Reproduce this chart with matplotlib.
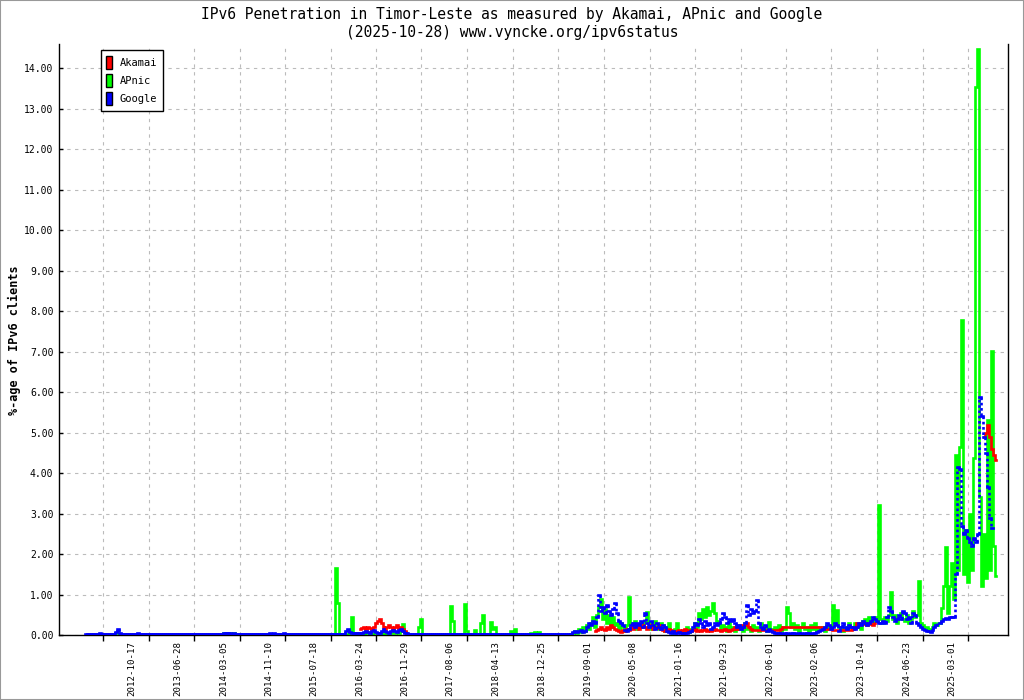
import numpy as np
import matplotlib
matplotlib.use("Agg")
import matplotlib.pyplot as plt
import matplotlib.dates as mdates
from matplotlib.patches import Patch, Rectangle

MONO = "DejaVu Sans Mono"
STEP_DAYS = 11  # spacing of the sampled values inside one segment

title_lines = ["IPv6 Penetration in Timor-Leste as measured by Akamai, APnic and Google",
               "(2025-10-28) www.vyncke.org/ipv6status"]
y_label = "%-age of IPv6 clients"
series_names = ["Akamai", "APnic", "Google"]
series_colors = ["#ff0000", "#00ff00", "#0000ff"]

date_labels = ["2012-10-17", "2013-06-28", "2014-03-05", "2014-11-10", "2015-07-18",
               "2016-03-24", "2016-11-29", "2017-08-06", "2018-04-13", "2018-12-25",
               "2019-09-01", "2020-05-08", "2021-01-16", "2021-09-23", "2022-06-01",
               "2023-02-06", "2023-10-14", "2024-06-23", "2025-03-01"]

# each segment: (first date, values every STEP_DAYS days)
akamai_segments = [
    ("2016-03-24", [0.15, 0.18, 0.2, 0.15, 0.2, 0.18, 0.15, 0.2, 0.3, 0.35,
                    0.4, 0.3, 0.2, 0.15, 0.2, 0.25, 0.2, 0.15, 0.2, 0.25,
                    0.18, 0.2, 0.15, 0.1, 0.05]),
    ("2019-10-13", [0.1, 0.12, 0.15, 0.2, 0.15, 0.12, 0.2, 0.15, 0.25, 0.2,
                    0.15, 0.12, 0.1, 0.08, 0.12, 0.1, 0.15, 0.12, 0.2, 0.15,
                    0.25, 0.2, 0.15, 0.2, 0.25, 0.2, 0.15, 0.2, 0.25, 0.15,
                    0.2, 0.18, 0.25, 0.15, 0.12, 0.1, 0.12, 0.15, 0.12, 0.1,
                    0.08, 0.1, 0.12, 0.1, 0.12, 0.15, 0.1, 0.12, 0.1, 0.12,
                    0.15, 0.1, 0.12, 0.1, 0.12, 0.15, 0.1, 0.12, 0.1, 0.12,
                    0.15, 0.12]),
    ("2021-08-25", [0.12, 0.1, 0.12, 0.15, 0.12, 0.1, 0.12, 0.15, 0.2, 0.15,
                    0.2, 0.25, 0.2, 0.25, 0.3, 0.2, 0.15, 0.12, 0.12, 0.12,
                    0.12, 0.12, 0.12, 0.12, 0.12, 0.12, 0.12, 0.12, 0.12, 0.12,
                    0.12, 0.15, 0.2, 0.2, 0.2, 0.2, 0.2, 0.2, 0.2, 0.2,
                    0.2, 0.2, 0.2, 0.2, 0.2, 0.2, 0.2, 0.2, 0.2, 0.2,
                    0.2, 0.2, 0.15, 0.15, 0.15, 0.15, 0.15, 0.12, 0.12, 0.12,
                    0.12, 0.12, 0.12, 0.12, 0.12, 0.12, 0.12]),
    ("2023-09-01", [0.15, 0.2, 0.3, 0.25, 0.3, 0.28, 0.3, 0.25, 0.3, 0.28,
                    0.25, 0.3]),
    ("2025-08-24", [4.9, 5.0, 5.18, 4.9, 4.6, 4.45, 4.33]),
]

apnic_segments = [
    ("2012-02-07", [0, 0, 0, 0, 0, 0, 0, 0, 0, 0,
                    0, 0, 0, 0, 0, 0.05, 0.06, 0, 0, 0,
                    0, 0, 0, 0, 0, 0, 0, 0, 0, 0,
                    0, 0, 0, 0, 0, 0, 0, 0, 0, 0,
                    0, 0, 0, 0, 0, 0, 0, 0, 0, 0,
                    0, 0, 0, 0, 0, 0, 0, 0, 0, 0,
                    0, 0, 0, 0, 0, 0, 0, 0, 0, 0.04,
                    0.05, 0.03, 0.05, 0.02, 0.04, 0, 0, 0, 0, 0,
                    0, 0, 0, 0, 0, 0, 0, 0, 0, 0,
                    0, 0, 0.03, 0, 0, 0, 0, 0, 0, 0,
                    0, 0, 0, 0, 0, 0, 0, 0, 0, 0,
                    0, 0, 0, 0, 0, 0, 0, 0, 0, 0,
                    0, 0, 0, 0, 0]),
    ("2015-11-13", [1.65, 0.8, 0.02, 0.02, 0.03, 0.03, 0.03, 0.05, 0.44, 0.04,
                    0.03, 0.05, 0.04, 0.06, 0.03, 0.05, 0.08, 0.04, 0.03, 0.06,
                    0.05, 0.04, 0.03, 0.05, 0.07, 0.04, 0.03, 0.05, 0.06, 0.04,
                    0.05, 0.08, 0.06, 0.1, 0.27, 0.08, 0.03]),
    ("2016-12-24", [0, 0, 0, 0, 0, 0.2, 0.4, 0,
                    0, 0, 0, 0, 0, 0, 0, 0, 0, 0,
                    0, 0, 0, 0.72, 0.35, 0, 0, 0, 0, 0,
                    0.77, 0.1, 0, 0, 0, 0.12, 0, 0, 0.3, 0.5,
                    0, 0, 0, 0.32, 0.15, 0.2, 0, 0, 0, 0,
                    0, 0, 0, 0.1, 0, 0.15, 0, 0, 0, 0,
                    0, 0, 0, 0.05, 0, 0.08, 0, 0.08, 0, 0,
                    0, 0, 0, 0, 0, 0, 0, 0, 0, 0,
                    0, 0, 0, 0.02]),
    ("2019-06-14", [0.05, 0.1, 0.05, 0.15, 0.08, 0.2, 0.1,
                    0.25, 0.15, 0.3, 0.45, 0.2, 0.5,
                    0.7, 0.9, 0.4, 0.65, 0.3, 0.5, 0.2, 0.45, 0.25, 0.3,
                    0.15, 0.3, 0.2, 0.1, 0.25,
                    0.95, 0.3, 0.2, 0.35, 0.15, 0.25, 0.3, 0.2, 0.35, 0.57,
                    0.3, 0.15, 0.25, 0.35, 0.2, 0.15, 0.3, 0.25, 0.1, 0.2,
                    0.3, 0.1, 0.05, 0.15, 0.3, 0.08, 0.1, 0.05, 0.12, 0.2, 0.08, 0.15,
                    0.15, 0.3, 0.2, 0.55, 0.4, 0.65, 0.45, 0.7, 0.5, 0.6, 0.8, 0.55, 0.35]),
    ("2021-08-25", [0.3, 0.15, 0.25, 0.2, 0.1, 0.3, 0.15, 0.2, 0.1, 0.25,
                    0.15, 0.2, 0.1, 0.3, 0.15, 0.2, 0.1, 0.25, 0.15, 0.2, 0.1,
                    0.3, 0.15, 0.2, 0.1, 0.33, 0.15, 0.1, 0.2,
                    0.15, 0.25, 0.1, 0.2, 0.15, 0.7, 0.55, 0.2, 0.3, 0.15,
                    0.25, 0.1, 0.2, 0.3, 0.15, 0.2, 0.1, 0.25, 0.15, 0.3,
                    0.1, 0.2, 0.15,
                    0.2, 0.1, 0.25, 0.15, 0.2, 0.74, 0.3, 0.62, 0.2, 0.15,
                    0.1, 0.2, 0.15, 0.3, 0.2]),
    ("2023-09-01", [0.15, 0.3, 0.2, 0.25, 0.15, 0.35, 0.4, 0.3, 0.45, 0.4,
                    0.3, 0.45, 0.35, 3.21,
                    0.4, 0.3, 0.45, 0.35, 0.5, 1.07, 0.4, 0.5, 0.3, 0.45,
                    0.55, 0.4, 0.35, 0.5, 0.3, 0.4,
                    0.6, 0.45, 0.5, 1.33, 0.3, 0.25, 0.15, 0.2, 0.1, 0.15,
                    0.2, 0.3, 0.25]),
    ("2024-12-25", [0.3, 0.66, 1.2, 2.17, 0.55, 1.2, 1.78, 0.9, 4.45, 1.6,
                    4.65, 7.78, 1.5, 2.6, 1.3, 3.0, 1.6, 4.37, 13.53, 14.47,
                    3.4, 1.2, 2.5, 1.4, 5.3, 1.6, 7.01, 2.2, 1.45]),
]

google_segments = [
    ("2012-02-07", [0.02, 0.02, 0.02, 0.02, 0.02, 0.02, 0.02, 0.05, 0.02, 0.02,
                    0.02, 0.02, 0.02, 0.02, 0.02, 0.08, 0.14, 0.06, 0.02, 0.02,
                    0.02, 0.02, 0.02, 0.02, 0.02, 0.02, 0.05, 0.02, 0.02, 0.02,
                    0.02, 0.02, 0.02, 0.02, 0.02, 0.02, 0.02, 0.02, 0.02, 0.02,
                    0.02, 0.02, 0.02, 0.02, 0.02, 0.02, 0.02, 0.02, 0.02, 0.02,
                    0.02, 0.02, 0.02, 0.02, 0.02, 0.02, 0.02, 0.02, 0.02, 0.02,
                    0.02, 0.02, 0.02, 0.02, 0.02, 0.02, 0.02, 0.02, 0.02, 0.05,
                    0.06, 0.04, 0.06, 0.03, 0.05, 0.02, 0.02, 0.02, 0.02, 0.02,
                    0.02, 0.02, 0.02, 0.02, 0.02, 0.02, 0.02, 0.02, 0.02, 0.02,
                    0.02, 0.02, 0.04, 0.02, 0.04, 0.02, 0.02, 0.02, 0.02, 0.04,
                    0.02, 0.02, 0.02, 0.02, 0.02, 0.02, 0.02, 0.02, 0.02, 0.02,
                    0.02, 0.02, 0.02, 0.02, 0.02, 0.02, 0.02, 0.02, 0.02, 0.02,
                    0.02, 0.02, 0.02, 0.02, 0.02]),
    ("2015-11-13", [0.02, 0.02, 0.02, 0.02, 0.02,
                    0.1, 0.15, 0.08, 0.04, 0.04, 0.04, 0.04,
                    0.05, 0.06, 0.08, 0.1, 0.08, 0.06, 0.1, 0.12, 0.08, 0.05,
                    0.06, 0.1, 0.15, 0.1, 0.08, 0.06, 0.1, 0.12, 0.1, 0.08,
                    0.12, 0.15, 0.1, 0.06, 0.04,
                    0.02, 0.02, 0.02, 0.02, 0.02, 0.02, 0.02, 0.02, 0.02, 0.02,
                    0.02, 0.02, 0.02, 0.02, 0.02, 0.02, 0.02, 0.02, 0.02, 0.02,
                    0.02, 0.02, 0.02, 0.02, 0.02, 0.02, 0.02, 0.02, 0.02, 0.02,
                    0.02, 0.02, 0.02, 0.02, 0.02, 0.02, 0.02, 0.02, 0.02, 0.02,
                    0.02, 0.02, 0.02, 0.02, 0.02, 0.02, 0.02, 0.02, 0.02, 0.02,
                    0.02, 0.02, 0.02, 0.02, 0.02, 0.02, 0.02, 0.02, 0.02, 0.02,
                    0.02, 0.02, 0.02, 0.02, 0.02, 0.02, 0.02, 0.02, 0.02, 0.02,
                    0.02, 0.02, 0.02, 0.02, 0.02, 0.02, 0.02, 0.02, 0.02, 0.02,
                    0.02, 0.02]),
    ("2019-06-14", [0.07, 0.1, 0.08, 0.1, 0.12, 0.08, 0.1,
                    0.2, 0.3, 0.25, 0.35, 0.3, 0.45,
                    0.98, 0.6, 0.7, 0.55, 0.75, 0.6, 0.5, 0.65, 0.8, 0.55,
                    0.35, 0.3, 0.25, 0.12, 0.1,
                    0.15, 0.25, 0.3, 0.2, 0.3, 0.25, 0.35, 0.2, 0.55, 0.3,
                    0.2, 0.35, 0.25, 0.15, 0.3, 0.2, 0.15, 0.25, 0.2, 0.1,
                    0.08, 0.05, 0.1, 0.06, 0.05, 0.08, 0.04, 0.05, 0.06, 0.04, 0.08, 0.1,
                    0.2, 0.3, 0.25, 0.4, 0.3, 0.2, 0.35, 0.25, 0.3, 0.15, 0.2, 0.3, 0.25]),
    ("2021-08-25", [0.3, 0.4, 0.55, 0.45, 0.3, 0.4, 0.35, 0.4, 0.3, 0.2,
                    0.25, 0.15, 0.2, 0.3, 0.75, 0.5, 0.65, 0.55, 0.6, 0.87, 0.3,
                    0.2, 0.15, 0.25, 0.1, 0.15, 0.1, 0.08, 0.05,
                    0.05, 0.04, 0.06, 0.03, 0.04, 0.05, 0.03, 0.04, 0.06, 0.04,
                    0.03, 0.05, 0.04, 0.03, 0.05, 0.04, 0.06, 0.03, 0.04, 0.05,
                    0.08, 0.1, 0.12,
                    0.15, 0.2, 0.3, 0.25, 0.15, 0.2, 0.3, 0.25, 0.1, 0.2,
                    0.3, 0.2, 0.15, 0.25, 0.2]),
    ("2023-09-01", [0.2, 0.15, 0.2, 0.3, 0.25, 0.35, 0.3, 0.25, 0.3, 0.35,
                    0.45, 0.4, 0.35, 0.3,
                    0.3, 0.35, 0.3, 0.45, 0.7, 0.6, 0.45, 0.35, 0.4, 0.5,
                    0.4, 0.6, 0.55, 0.4, 0.45, 0.3,
                    0.55, 0.5, 0.3, 0.25, 0.2, 0.15, 0.12, 0.1, 0.1, 0.08,
                    0.12, 0.2, 0.25]),
    ("2024-12-25", [0.3, 0.35, 0.4, 0.42, 0.4, 0.45, 0.45, 0.45, 1.5, 4.15,
                    4.1, 2.7, 2.5, 2.6, 2.4, 2.3, 2.2, 2.4, 2.3, 2.5,
                    5.87, 5.4, 4.9, 4.5, 3.65, 2.9, 2.65]),
]


def build_runs(segments):
    # join touching segments; a real gap in the data starts a new run
    runs = []
    prev_end = None
    for start, vals in segments:
        t0 = mdates.datestr2num(start)
        t = t0 + STEP_DAYS * np.arange(len(vals))
        if prev_end is None or t0 - prev_end > 3 * STEP_DAYS:
            runs.append(([], []))
        runs[-1][0].extend(t)
        runs[-1][1].extend(vals)
        prev_end = t[-1]
    return [(np.array(t), np.array(v, dtype=float)) for t, v in runs]


fig = plt.figure(figsize=(10.24, 7.0), dpi=100)
ax = fig.add_axes([59 / 1024, 65 / 700, 949 / 1024, 591 / 700])

# APnic and Akamai as stepped lines
for segs, color, z in [(apnic_segments, series_colors[1], 2),
                       (akamai_segments, series_colors[0], 3)]:
    for t, v in build_runs(segs):
        ax.plot(t, v, drawstyle="steps-mid", color=color, lw=1.9, zorder=z,
                solid_joinstyle="miter")

# Google: solid flats, dotted rises
half = STEP_DAYS / 2
for t, v in build_runs(google_segments):
    flats = ax.hlines(v, t - half, t + half, colors=series_colors[2], lw=1.9,
                      zorder=4)
    flats.set_capstyle("projecting")
    ax.vlines(t[:-1] + half, v[:-1], v[1:], colors=series_colors[2], lw=1.9,
              linestyles=(0, (1, 1)), zorder=4)

# axes
label_nums = mdates.datestr2num(date_labels)
tick_nums = list(label_nums - 160) + [label_nums[-1] + 91]
ax.set_xlim(mdates.datestr2num("2011-09-11"), mdates.datestr2num("2026-01-04"))
ax.set_ylim(0, 14.6)
ax.set_xticks(tick_nums)
ax.set_xticklabels([])
ax.set_xticks(label_nums, minor=True)
ax.set_xticklabels(date_labels, minor=True, rotation=90, fontsize=6.6,
                   family=MONO, va="top")
ax.tick_params(axis="x", which="major", direction="out", length=4, width=1)
ax.tick_params(axis="x", which="minor", length=0, pad=4)
ax.set_yticks(np.arange(0, 15))
ax.set_yticklabels(["%.2f" % y for y in range(15)], fontsize=7, family=MONO)
ax.tick_params(axis="y", direction="in", length=3, width=1, pad=4)

ax.grid(True, which="major", color="#bbbbbb", lw=0.8, ls=(0, (3, 4)))
ax.set_axisbelow(True)
ax.spines["top"].set_visible(False)
for side in ["left", "bottom", "right"]:
    ax.spines[side].set_color("black")
    ax.spines[side].set_linewidth(1)

handles = [Patch(facecolor=c, edgecolor="black", lw=1) for c in series_colors]
leg = ax.legend(handles, series_names, loc="upper left",
                bbox_to_anchor=(0.044, 0.99), borderaxespad=0,
                prop={"family": MONO, "size": 7.5}, handlelength=0.55,
                handleheight=1.6, handletextpad=0.7, labelspacing=0.45,
                borderpad=0.55, fancybox=False, framealpha=1)
leg.get_frame().set_edgecolor("black")
leg.get_frame().set_linewidth(1)
leg.set_zorder(10)

fig.text(0.5, 1 - 14 / 700, title_lines[0], ha="center", va="center",
         fontsize=10.5, family=MONO)
fig.text(0.5, 1 - 32 / 700, title_lines[1], ha="center", va="center",
         fontsize=10.5, family=MONO)
fig.text(14 / 1024, 1 - 340 / 700, y_label, rotation=90, ha="center",
         va="center", fontsize=8.5, family=MONO, weight="bold")

fig.patches.append(Rectangle((0, 0), 1, 1, transform=fig.transFigure,
                             fill=False, edgecolor="#999999", lw=1.5))

fig.savefig("out.png", dpi=100)
